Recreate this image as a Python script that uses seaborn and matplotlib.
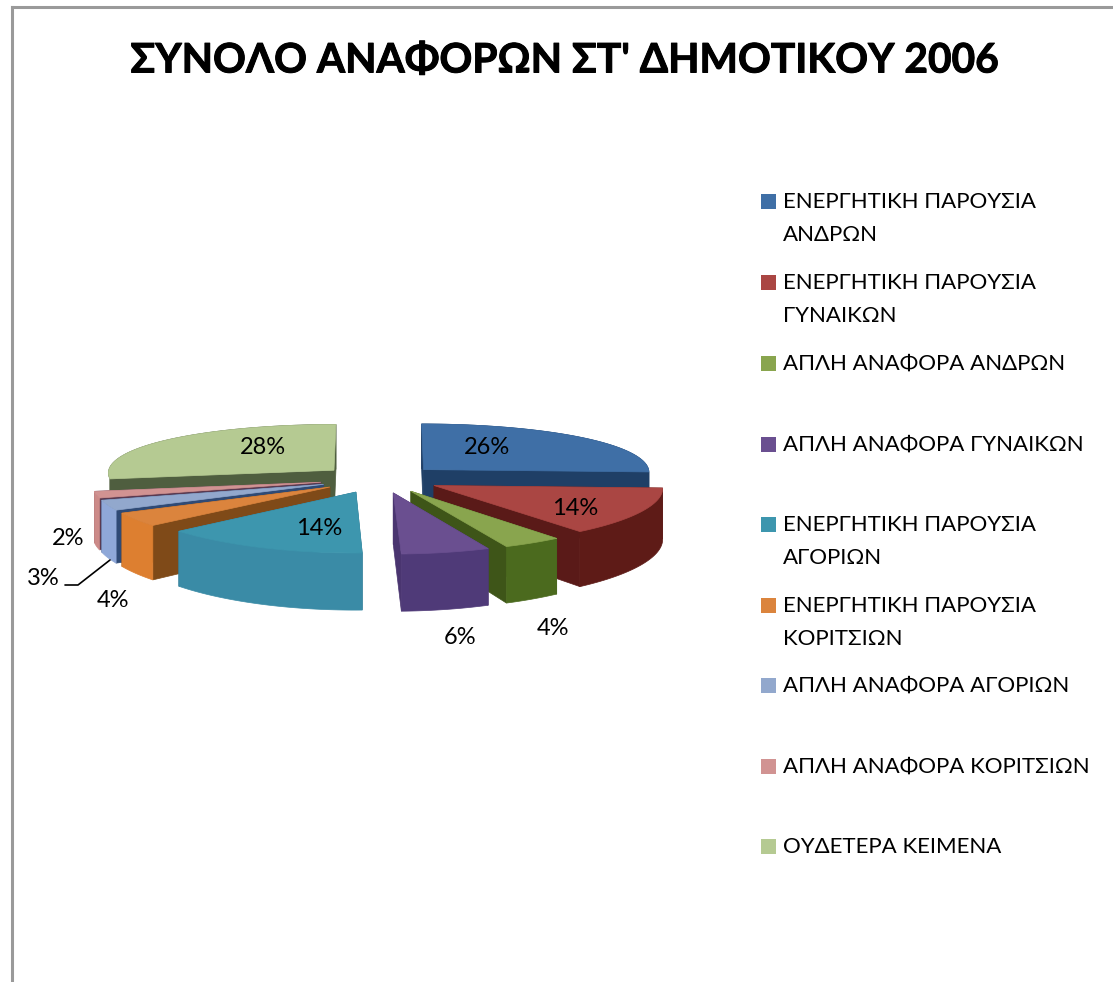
import numpy as np
import seaborn as sns
import matplotlib.pyplot as plt
import matplotlib.patheffects as pe
from matplotlib.patches import Rectangle

title = "ΣΥΝΟΛΟ ΑΝΑΦΟΡΩΝ ΣΤ' ΔΗΜΟΤΙΚΟΥ 2006"
categories = ["ΕΝΕΡΓΗΤΙΚΗ ΠΑΡΟΥΣΙΑ\nΑΝΔΡΩΝ", "ΕΝΕΡΓΗΤΙΚΗ ΠΑΡΟΥΣΙΑ\nΓΥΝΑΙΚΩΝ", "ΑΠΛΗ ΑΝΑΦΟΡΑ ΑΝΔΡΩΝ",
              "ΑΠΛΗ ΑΝΑΦΟΡΑ ΓΥΝΑΙΚΩΝ", "ΕΝΕΡΓΗΤΙΚΗ ΠΑΡΟΥΣΙΑ\nΑΓΟΡΙΩΝ", "ΕΝΕΡΓΗΤΙΚΗ ΠΑΡΟΥΣΙΑ\nΚΟΡΙΤΣΙΩΝ",
              "ΑΠΛΗ ΑΝΑΦΟΡΑ ΑΓΟΡΙΩΝ", "ΑΠΛΗ ΑΝΑΦΟΡΑ ΚΟΡΙΤΣΙΩΝ", "ΟΥΔΕΤΕΡΑ ΚΕΙΜΕΝΑ"]
values = [26, 14, 4, 6, 14, 4, 3, 2, 28]

top_colors = ["#3F6FA6", "#AA4643", "#89A54E", "#6A4F90", "#3D96AE", "#DB843D", "#92A8CD", "#D19392", "#B5CA92"]
arc_colors = ["#1F3F66", "#5E1B17", "#4B6A1E", "#4F3A78", "#3A8BA6", "#DD7F30", "#8FA8D8", "#CC8A88", "#4F5E3F"]
cut_colors = ["#1F3F66", "#5A1A18", "#3E5518", "#4A3570", "#2E6D85", "#7F4A18", "#2F4A75", "#5A3A50", "#4F5E3F"]

# perspective of the tilted pie, in pixels
cx, cy = 380, 479
rx, ry = 227, 52
persp_x, persp_y = 0.045, 0.1
explode = 0.267
depth = 50


def project(u, v):
    sy = 1 / (1 + persp_y * v)
    return cx + rx * u / (1 + persp_x * v), cy - ry * v * sy, depth * sy


sns.set_theme(style="white")
plt.rcParams["font.family"] = ["Lato", "Open Sans", "DejaVu Sans"]

fig = plt.figure(figsize=(11.13, 9.82), dpi=100)
ax = fig.add_axes([12 / 1113, 0, 1101 / 1113, 975 / 982])
ax.set_xlim(12, 1113)
ax.set_ylim(982, 7)
ax.set_xticks([])
ax.set_yticks([])
for side in ["right", "bottom"]:
    ax.spines[side].set_visible(False)
for side in ["left", "top"]:
    ax.spines[side].set_color("#9A9A9A")
    ax.spines[side].set_linewidth(2.2)

edges = np.cumsum([0] + values) / sum(values) * 2 * np.pi

# back slices first so the front ones cover them
order = [0, 8, 7, 6, 5, 1, 2, 3, 4]
for i in order:
    a0, a1 = edges[i], edges[i + 1]
    mid = (a0 + a1) / 2
    ou, ov = explode * np.sin(mid), explode * np.cos(mid)
    t = np.linspace(a0, a1, 60)
    ax_, ay, ad = project(np.array([ou]), np.array([ov]))
    x, y, d = project(ou + np.sin(t), ov + np.cos(t))

    # the two cut faces, the upper one first
    for j in sorted([0, -1], key=lambda n: y[n]):
        ax.fill([ax_[0], x[j], x[j], ax_[0]], [ay[0], y[j], y[j] + d[j], ay[0] + ad[0]],
                color=cut_colors[i], lw=0.5, zorder=2)
    # outer rim
    ax.fill(np.r_[x, x[::-1]], np.r_[y, (y + d)[::-1]], color=arc_colors[i], lw=0.5, zorder=2)
    # top face
    ax.fill(np.r_[ax_, x], np.r_[ay, y], color=top_colors[i], lw=0.5, zorder=2)

# percent labels
label_pos = [(487, 448), (575, 509), (553, 629), (460, 638), (319, 529), (113, 601), (43, 579), (68, 539), (263, 448)]
for val, (lx, ly) in zip(values, label_pos):
    ax.text(lx, ly, f"{val}%", fontsize=17, color="black", ha="center", va="center", zorder=5)
ax.plot([65, 78, 110], [585, 585, 560], color="black", lw=1.2, zorder=5)

# legend, one text per line so the rows keep a fixed baseline
legend_y = [200, 281, 362, 443, 523, 604, 684, 765, 845]
for name, col, ly in zip(categories, top_colors, legend_y):
    ax.add_patch(Rectangle((761, ly - 6), 15, 15, color=col, lw=0))
    for n, line in enumerate(name.split("\n")):
        ax.text(783, ly + 8 + n * 33, line, fontsize=16, color="black", ha="left", va="baseline")

ax.text(565, 61, title, fontsize=29.3, fontweight="bold", color="black", ha="center", va="center",
        path_effects=[pe.withStroke(linewidth=0.7, foreground="black")])

fig.savefig("out.png", dpi=100)
